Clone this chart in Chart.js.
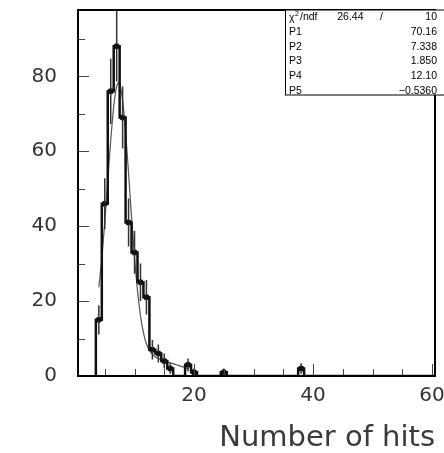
<!DOCTYPE html>
<html>
<head>
<meta charset="utf-8">
<script src="https://cdn.jsdelivr.net/npm/chart.js@4.4.0/dist/chart.umd.min.js"></script>
<style>
    html, body { margin: 0; padding: 0; background: #fff; }
</style>
</head>
<body>
<canvas id="hitsChart" width="444" height="453"></canvas>
<script>
// Number of hits histogram (bins centred on integers, width 1)
const hitValues = [4, 5, 6, 7, 8, 9, 10, 11, 12, 13, 14, 15, 16, 19, 20, 25, 38];
const hitCounts = [15, 46, 76, 88, 69, 41, 33, 25, 21, 7, 6, 4, 2, 3, 1, 1, 2];
const hitErrors = [3.9, 6.8, 8.7, 9.4, 8.3, 6.4, 5.7, 5.0, 4.6, 2.6, 2.4, 2.0, 1.4, 1.7, 1.0, 1.0, 1.4];

// fitted curve
const fitX = [4, 4.5, 5, 5.5, 6, 6.5, 7, 7.34, 7.5, 8, 8.5, 9, 9.5, 10, 10.5, 11, 11.5, 12, 12.5, 13, 13.5, 14, 15, 16, 17, 18, 19];
const fitY = [23.7, 31.3, 41.0, 52.0, 62.9, 71.9, 77.3, 78.3, 78.0, 73.6, 65.1, 54.1, 42.4, 31.7, 22.8, 16.1, 11.5, 8.6, 6.8, 5.8, 5.1, 4.7, 4.1, 3.5, 3.0, 2.5, 1.9];

// axes
const xTicks = [20, 40, 60];
const xMinorTicks = [5, 10, 15, 25, 30, 35, 45, 50, 55];
const yTicks = [0, 20, 40, 60, 80];
const yMinorTicks = [10, 30, 50, 70, 90];

// stats box
const chi2Text = '26.44';
const ndfText = '10';
const parNames = ['P1', 'P2', 'P3', 'P4', 'P5'];
const parValues = ['70.16', '7.338', '1.850', '12.10', '\u22120.5360'];

// build the step outline from the bins
function buildOutline() {
    const first = hitValues[0];
    const last = hitValues[hitValues.length - 1];
    const pts = [{ x: first - 0.5, y: 0 }];
    for (let n = first; n <= last; n++) {
        const i = hitValues.indexOf(n);
        const c = i >= 0 ? hitCounts[i] : 0;
        pts.push({ x: n - 0.5, y: c });
        pts.push({ x: n + 0.5, y: c });
    }
    pts.push({ x: last + 0.5, y: 0 });
    pts.push({ x: 60.5, y: 0 });
    return pts;
}

const errorSegments = [];
hitValues.forEach((v, i) => {
    errorSegments.push({ x: v, y: hitCounts[i] - hitErrors[i] });
    errorSegments.push({ x: v, y: hitCounts[i] + hitErrors[i] });
    errorSegments.push({ x: v, y: null });
});

const frameAndStats = {
    id: 'frameAndStats',
    afterDatasetsDraw(chart) {
        const { ctx, chartArea: a, scales: { x, y } } = chart;
        ctx.save();

        // inner ticks
        ctx.strokeStyle = '#444';
        ctx.lineWidth = 1;
        ctx.beginPath();
        yTicks.forEach(v => {
            const py = Math.round(y.getPixelForValue(v)) + 0.5;
            ctx.moveTo(a.left, py); ctx.lineTo(a.left + 11, py);
        });
        yMinorTicks.forEach(v => {
            const py = Math.round(y.getPixelForValue(v)) + 0.5;
            ctx.moveTo(a.left, py); ctx.lineTo(a.left + 7, py);
        });
        xTicks.forEach(v => {
            const px = Math.round(x.getPixelForValue(v)) + 0.5;
            ctx.moveTo(px, a.bottom); ctx.lineTo(px, a.bottom - 12);
        });
        xMinorTicks.forEach(v => {
            const px = Math.round(x.getPixelForValue(v)) + 0.5;
            ctx.moveTo(px, a.bottom); ctx.lineTo(px, a.bottom - 7);
        });
        ctx.stroke();

        // frame
        ctx.strokeStyle = '#000';
        ctx.lineWidth = 2;
        ctx.strokeRect(a.left, a.top, a.right - a.left, a.bottom - a.top);

        // stats box
        const bx = 285.5, by = a.top, bw = 170, bh = 85;
        ctx.fillStyle = '#fff';
        ctx.fillRect(bx, by, bw, bh);
        ctx.lineWidth = 1;
        ctx.strokeRect(bx, by, bw, bh);

        ctx.fillStyle = '#000';
        ctx.textBaseline = 'middle';
        ctx.font = '10.5px "Liberation Sans", Arial, sans-serif';
        ctx.textAlign = 'left';
        const r0 = 17;
        ctx.fillText('\u03C7', 289, r0 + 1);
        ctx.font = '7px "Liberation Sans", Arial, sans-serif';
        ctx.fillText('2', 295, r0 - 3);
        ctx.font = '10.5px "Liberation Sans", Arial, sans-serif';
        ctx.fillText('/ndf', 300, r0);
        ctx.textAlign = 'right';
        ctx.fillText(chi2Text, 363.5, r0);
        ctx.fillText('/', 383, r0);
        ctx.fillText(ndfText, 437, r0);

        parNames.forEach((name, i) => {
            const ry = 32.3 + i * 14.6;
            ctx.textAlign = 'left';
            ctx.fillText(name, 289, ry);
            ctx.textAlign = 'right';
            ctx.fillText(parValues[i], 437, ry);
        });

        ctx.restore();
    }
};

const ctx = document.getElementById('hitsChart').getContext('2d');
new Chart(ctx, {
    type: 'scatter',
    data: {
        datasets: [
            {
                label: 'histogram',
                data: buildOutline(),
                showLine: true,
                borderColor: '#111',
                borderWidth: 2.5,
                pointRadius: 0
            },
            {
                label: 'errors',
                data: errorSegments,
                showLine: true,
                spanGaps: false,
                borderColor: '#333',
                borderWidth: 1.5,
                pointRadius: 0
            },
            {
                label: 'fit',
                data: fitX.map((v, i) => ({ x: v, y: fitY[i] })),
                showLine: true,
                borderColor: '#555',
                borderWidth: 1.2,
                tension: 0.4,
                cubicInterpolationMode: 'monotone',
                pointRadius: 0
            },
            {
                label: 'counts',
                data: hitValues.map((v, i) => ({ x: v, y: hitCounts[i] })),
                showLine: false,
                pointRadius: 3,
                pointBackgroundColor: '#000',
                pointBorderWidth: 0
            }
        ]
    },
    options: {
        responsive: false,
        animation: false,
        devicePixelRatio: 1,
        layout: { padding: { left: 0, right: 9, top: 10, bottom: 0 } },
        plugins: {
            legend: { display: false },
            tooltip: { enabled: false }
        },
        scales: {
            x: {
                type: 'linear',
                min: 0.5,
                max: 60.5,
                grid: { display: false, drawTicks: false },
                border: { display: false },
                afterBuildTicks: scale => { scale.ticks = xTicks.map(v => ({ value: v })); },
                afterFit: scale => { scale.height = 77; scale.paddingLeft = 0; scale.paddingRight = 0; },
                ticks: {
                    padding: 8,
                    maxRotation: 0,
                    color: '#333',
                    font: { family: '"DejaVu Sans", sans-serif', size: 20 }
                },
                title: {
                    display: true,
                    text: 'Number of hits',
                    align: 'end',
                    color: '#3a3a3a',
                    padding: 0,
                    font: { family: '"DejaVu Sans", sans-serif', size: 29, lineHeight: 1 }
                }
            },
            y: {
                type: 'linear',
                min: 0,
                max: 97.7,
                grid: { display: false, drawTicks: false },
                border: { display: false },
                afterBuildTicks: scale => { scale.ticks = yTicks.map(v => ({ value: v })); },
                afterFit: scale => { scale.width = 78; scale.paddingTop = 0; scale.paddingBottom = 0; },
                ticks: {
                    padding: 21,
                    color: '#333',
                    font: { family: '"DejaVu Sans", sans-serif', size: 20 }
                }
            }
        }
    },
    plugins: [frameAndStats]
});
</script>
</body>
</html>
